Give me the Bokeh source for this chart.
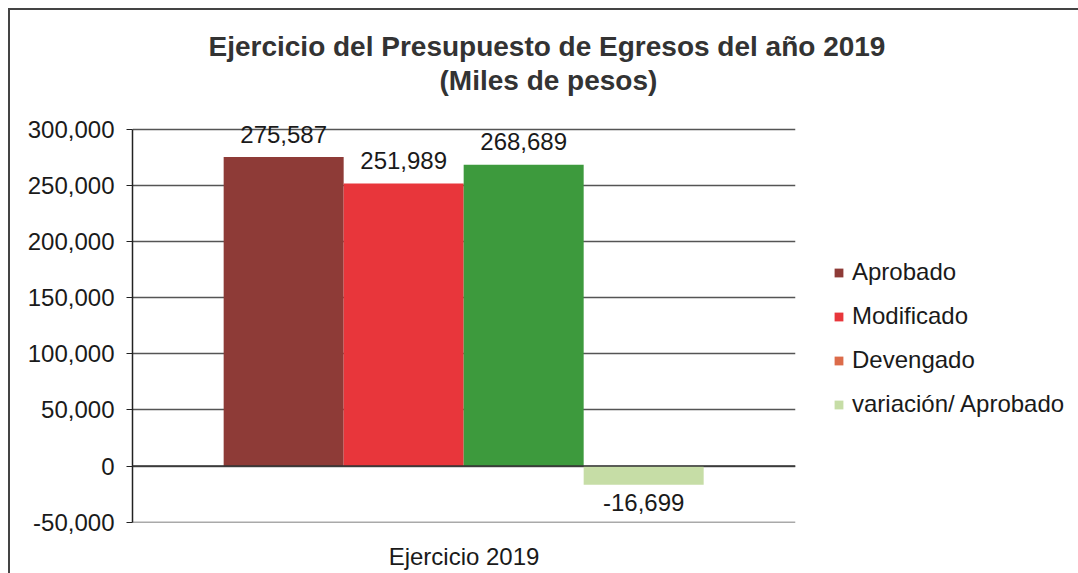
from bokeh.plotting import figure
from bokeh.models import (ColumnDataSource, FactorRange, Legend, LegendItem, LabelSet, Title,
                          Span, FixedTicker, NumeralTickFormatter)
from bokeh.core.properties import value
from bokeh.transform import dodge
from bokeh.embed import file_html
from bokeh.resources import INLINE

# ---- data ----
category = ["Ejercicio 2019"]
series = ["Aprobado", "Modificado", "Devengado", "variación/ Aprobado"]
values = [275587, 251989, 268689, -16699]
bar_colors = ["#8E3B37", "#E8363B", "#3D9A3D", "#C6DDA6"]
legend_colors = ["#8E3B37", "#E8363B", "#DC6B4A", "#C6DDA6"]
y_ticks = [-50000, 0, 50000, 100000, 150000, 200000, 250000, 300000]
title_lines = ["Ejercicio del Presupuesto de Egresos del año 2019", "(Miles de pesos)"]

FONT = "Liberation Sans"

p = figure(frame_width=663, frame_height=404, x_range=FactorRange(*category),
           y_range=(-50400, 310000), output_backend="svg", toolbar_location=None,
           min_border_left=122, min_border_right=283, min_border_top=108, min_border_bottom=51)
p.margin = (10, 0, 0, 10)
p.styles = {"outline": "2px solid #444"}
p.outline_line_color = None
p.background_fill_color = "white"
p.border_fill_color = "white"

offsets = [-0.272, -0.091, 0.090, 0.271]
bar_w = 0.181
for s, v, c, o in zip(series, values, bar_colors, offsets):
    src = ColumnDataSource(dict(cat=category, val=[v]))
    p.vbar(x=dodge("cat", o, range=p.x_range), top="val", bottom=0, width=bar_w, source=src,
           fill_color=c, line_color=None)

# value labels
for i, o in enumerate(offsets):
    src = ColumnDataSource(dict(cat=[category[0]], val=[values[i]], txt=[f"{values[i]:,}"],
                                off=[23 if values[i] >= 0 else -18]))
    ls = LabelSet(x=dodge("cat", o, range=p.x_range), y="val", text="txt", y_offset="off",
                  source=src, text_align="center", text_baseline="middle",
                  text_font=value(FONT), text_font_size="24px", text_color="#1a1a1a")
    p.add_layout(ls)

# legend with zero-height proxy renderers (legend swatch colours differ from bars)
items = []
for s, c in zip(series, legend_colors):
    src = ColumnDataSource(dict(cat=category, val=[0]))
    r = p.vbar(x="cat", top="val", bottom="val", width=0.01, source=src,
               fill_color=c, line_color=None)
    items.append(LegendItem(label=s, renderers=[r]))
legend = Legend(items=items, location=(38, 104), glyph_width=11, glyph_height=11,
                label_standoff=8, spacing=16, label_height=20, padding=0, margin=0,
                border_line_color=None, background_fill_alpha=0,
                label_text_font=FONT, label_text_font_size="24px", label_text_color="#1a1a1a")
p.add_layout(legend, "right")

# axes
p.yaxis.ticker = FixedTicker(ticks=y_ticks)
p.yaxis.bounds = (-50000, 300000)
p.yaxis.formatter = NumeralTickFormatter(format="0,0")
p.yaxis.major_label_text_font = FONT
p.yaxis.major_label_text_font_size = "24px"
p.yaxis.major_label_text_color = "#1a1a1a"
p.yaxis.axis_line_color = "#222"
p.yaxis.axis_line_width = 1.5
p.yaxis.major_tick_line_color = "#222"
p.yaxis.major_tick_out = 6
p.yaxis.major_tick_in = 0
p.yaxis.minor_tick_line_color = None
p.yaxis.major_label_standoff = 12

p.xaxis.axis_line_color = None
p.xaxis.major_tick_line_color = None
p.xaxis.minor_tick_line_color = None
p.xaxis.major_label_text_font = FONT
p.xaxis.major_label_text_font_size = "24px"
p.xaxis.major_label_text_color = "#1a1a1a"
p.xaxis.major_label_standoff = 14

p.xgrid.grid_line_color = None
p.ygrid.grid_line_color = "#555555"
p.ygrid.grid_line_width = 1.5

p.add_layout(Span(location=0, dimension="width", line_color="#333", line_width=1.5))

# titles
t2 = Title(text=title_lines[1], align="left", offset=307, standoff=46, text_font=FONT,
           text_font_size="28px", text_font_style="bold", text_color="#333333")
t1 = Title(text=title_lines[0], align="left", offset=76, standoff=-44, text_font=FONT,
           text_font_size="28px", text_font_style="bold", text_color="#333333")
p.add_layout(t2, "above")
p.add_layout(t1, "above")

open("out.html", "w").write(file_html(p, INLINE))
